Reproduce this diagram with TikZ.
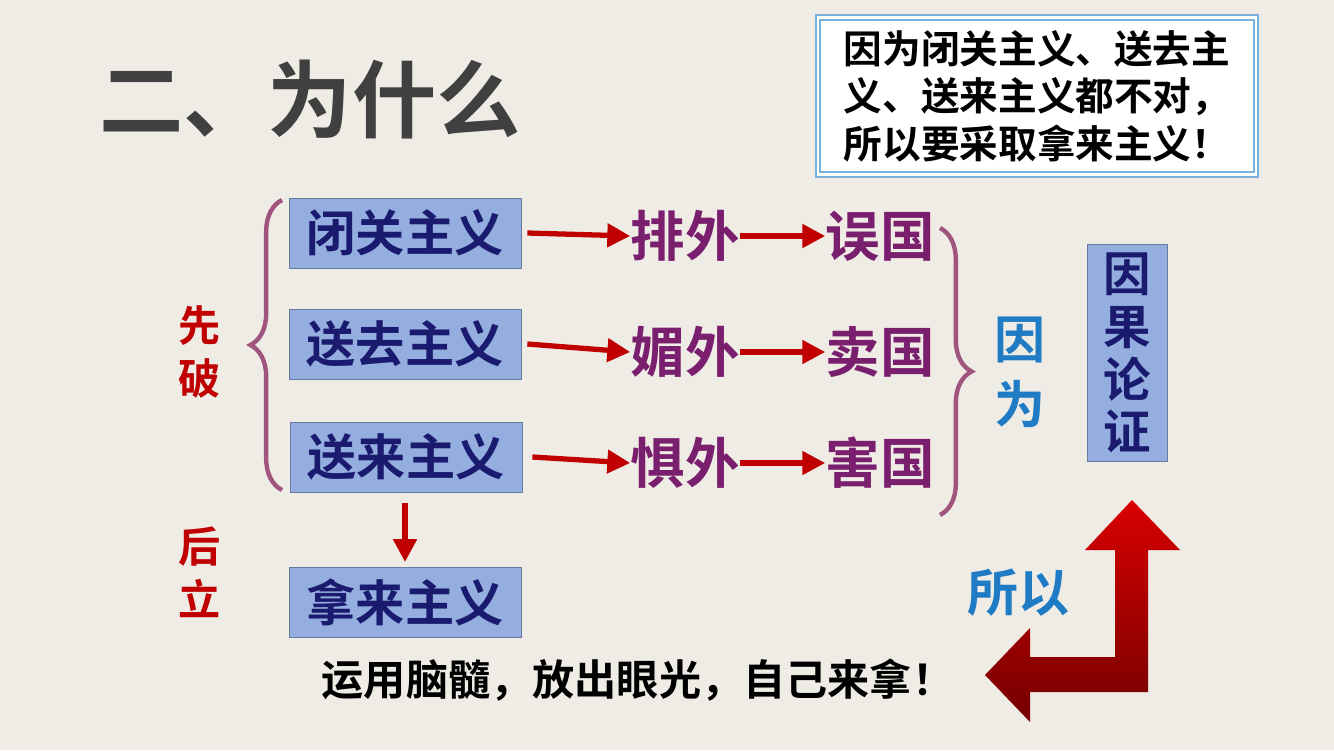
\documentclass[tikz,border=0pt]{standalone}
\usepackage{fontspec}
\setmainfont{Noto Sans CJK SC}[BoldFont={* Bold}]
\usetikzlibrary{positioning, decorations.pathreplacing, arrows.meta}
\definecolor{bgcol}{HTML}{EFECE6}
\definecolor{boxfill}{HTML}{95AEE0}
\definecolor{navy}{HTML}{1A1A6E}
\definecolor{plum}{HTML}{7A1E6E}
\definecolor{bracecol}{HTML}{A0557E}
\definecolor{darkred}{HTML}{C00000}
\definecolor{skyblue}{HTML}{1E7BC4}
\begin{document}
\begin{tikzpicture}[x=0.02cm,y=-0.02cm]

\tikzset{ism/.style = {draw=boxfill!70!black, fill=boxfill, text=navy, font=\fontsize{28}{30}\selectfont\bfseries, minimum width=232*0.02cm, minimum height=70*0.02cm, inner sep=0pt}}
\tikzset{word/.style = {text=plum, font=\fontsize{31}{34}\selectfont\bfseries, inner sep=0pt}}
\tikzset{link/.style = {-{Triangle[length=13pt,width=13pt]}, draw=darkred, line width=3pt}}
\tikzset{brace/.style = {draw=bracecol, line width=2.5pt, decorate, decoration={brace, amplitude=18pt}}}
% background
\fill[bgcol] (0,0) rectangle (1334,750);
\node[text=black!75, font=\fontsize{48}{50}\selectfont\bfseries] (title) at (310,100) {二、为什么};
% reason box
\node[draw=skyblue!60, double=white, double distance=1.5pt, line width=1pt, fill=white, align=left, font=\fontsize{22}{27}\selectfont\bfseries, minimum width=438*0.02cm, minimum height=157*0.02cm] (reason) at (1037,96) {因为闭关主义、送去主\\义、送来主义都不对，\\所以要采取拿来主义！};
% isms
\node[ism] (close) at (405,233) {闭关主义};
\node[ism] (send) at (405,344) {送去主义};
\node[ism] (recv) at (406,457) {送来主义};
\node[ism] (take) at (405,602) {拿来主义};
% results
\node[word] (pai) at (685,236) {排外};
\node[word] (wu) at (880,236) {误国};
\node[word] (mei) at (685,352) {媚外};
\node[word] (mai) at (880,352) {卖国};
\node[word] (ju) at (685,463) {惧外};
\node[word] (hai) at (880,463) {害国};
% arrows
\draw[link] (close.east) ++(6,0) -- (pai.west);
\draw[link] (pai) -- (wu);
\draw[link] (send.east) ++(6,0) -- (mei.west);
\draw[link] (mei) -- (mai);
\draw[link] (recv.east) ++(10,0) -- (ju.west);
\draw[link] (ju) -- (hai);
\coordinate (d1) at (405,503);
\coordinate (d2) at (405,562);
\draw[link] (d1) -- (d2);
% braces
\draw[brace] (282,490) -- (282,200);
\draw[brace] (940,228) -- (940,515);
% side texts
\node[text=darkred, font=\fontsize{24}{30}\selectfont\bfseries, align=center] (po) at (200,352) {先\\破};
\node[text=darkred, font=\fontsize{24}{30}\selectfont\bfseries, align=center] (li) at (200,572) {后\\立};
\node[text=skyblue, font=\fontsize{29}{37}\selectfont\bfseries, align=center] (because) at (1020,372) {因\\为};
\node[draw=boxfill!70!black, fill=boxfill, text=navy, font=\fontsize{27}{30}\selectfont\bfseries, align=center, minimum width=80*0.02cm, minimum height=217*0.02cm, inner sep=0pt] (cause) at (1127,353) {因\\果\\论\\证};
\node[text=skyblue, font=\fontsize{29}{30}\selectfont\bfseries] (so) at (1018,593) {所以};
% big arrow
\shade[top color=red!85!black, bottom color=red!45!black, draw=none]
  (1132,500) -- (1180,550) -- (1148,550) -- (1148,692) -- (1030,692) -- (1030,722)
  -- (985,675) -- (1030,628) -- (1030,657) -- (1115,657) -- (1115,550) -- (1085,550) -- cycle;
\node[text=black, font=\fontsize{24}{26}\selectfont\bfseries] (slogan) at (638,680) {运用脑髓，放出眼光，自己来拿！};
\end{tikzpicture}
\end{document}
